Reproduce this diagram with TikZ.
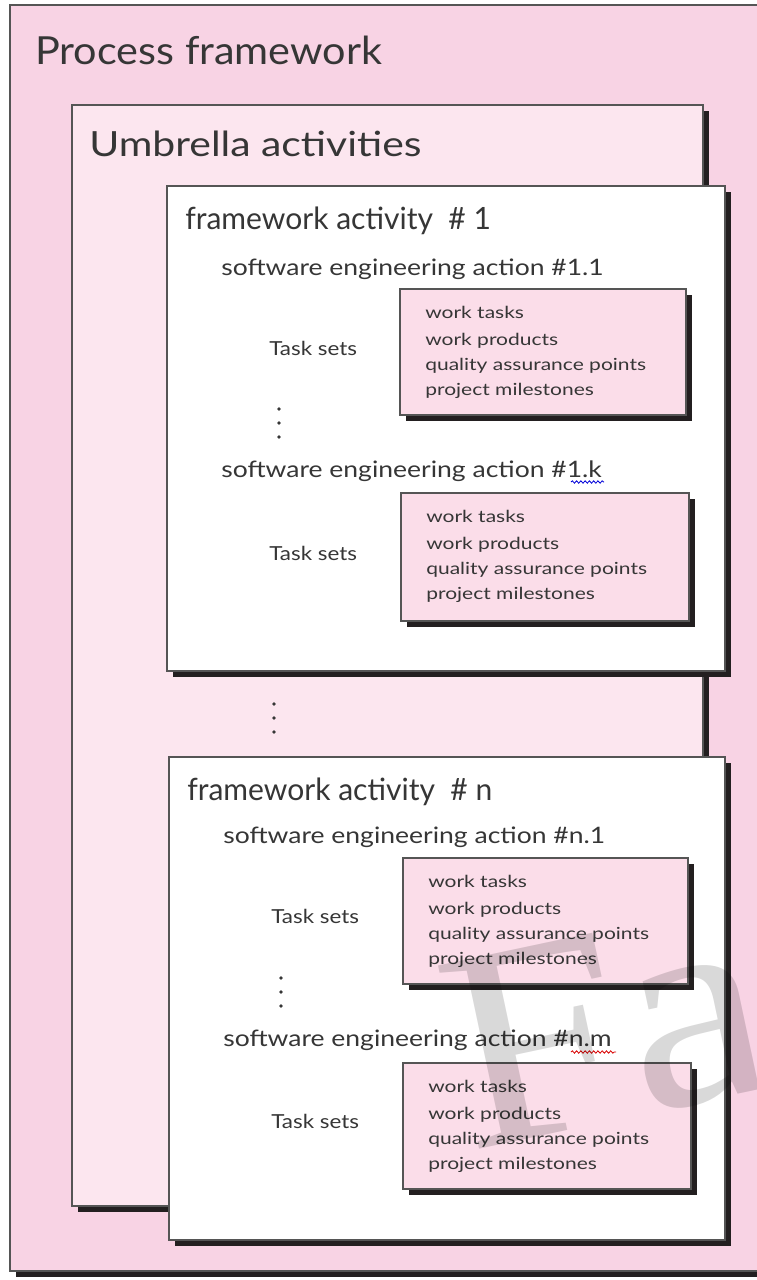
\documentclass[tikz,border=0pt]{standalone}
\usepackage{fontspec}
\setmainfont{Lato}
\newfontfamily\wmfont{Liberation Serif}
\usetikzlibrary{fit,shadows,decorations.pathmorphing}

\definecolor{outerpink}{HTML}{F8D3E4}
\definecolor{umbpink}{HTML}{FCE6EF}
\definecolor{taskpink}{HTML}{FBDDE9}
\definecolor{shade}{HTML}{231F20}
\definecolor{ink}{HTML}{363636}
\definecolor{edge}{HTML}{555555}

% font size with horizontal widening
\newcommand\wideface[2]{\fontsize{#1}{#1}\selectfont\addfontfeatures{FakeStretch=#2}}

\tikzset{
  panel/.style={draw=edge, line width=0.8pt, inner sep=0pt,
    drop shadow={shadow xshift=4.5pt, shadow yshift=-4.5pt, fill=shade, opacity=1}},
  outerbox/.style={panel, fill=outerpink},
  umbbox/.style={panel, fill=umbpink},
  actbox/.style={panel, fill=white},
  taskbox/.style={panel, fill=taskpink},
  lbl/.style={anchor=base west, inner sep=0pt, text=ink},
  huge lbl/.style={lbl, font=\wideface{29}{1.07}},
  big lbl/.style={lbl, font=\wideface{26}{1.18}},
  mid lbl/.style={lbl, font=\wideface{23}{0.98}},
  act lbl/.style={lbl, font=\wideface{17}{1.17}},
  set lbl/.style={lbl, font=\wideface{14.5}{1.16}},
  item lbl/.style={lbl, font=\wideface{12.5}{1.26}},
  vdot/.style={fill=ink, circle, inner sep=0pt, minimum size=2.8pt},
  squiggle/.style={line width=0.6pt, decorate,
    decoration={snake, amplitude=0.9pt, segment length=3.2pt}},
}

\begin{document}
\begin{tikzpicture}[x=0.75pt, y=-0.75pt]
\useasboundingbox (0,0) rectangle (756,1280);
\fill[white] (0,0) rectangle (756,1280);

% nested panels
\node[outerbox, fit={(10,5) (800,1271)}] (outer) {};
\node[umbbox, fit={(72,105) (703,1206)}] (umbrella) {};
\node[actbox, fit={(167,186) (725,671)}] (act1) {};
\node[actbox, fit={(169,757) (725,1240)}] (actn) {};

% task-set boxes
\node[taskbox, fit={(400,289) (686,415)}] (t1) {};
\node[taskbox, fit={(401,493) (689,621)}] (t2) {};
\node[taskbox, fit={(403,858) (688,984)}] (t3) {};
\node[taskbox, fit={(403,1063) (691,1189)}] (t4) {};

% panel titles
\node[huge lbl] (ttl) at (35,65) {Process framework};
\node[big lbl] (umbttl) at (89,157) {Umbrella activities};
\node[mid lbl] (act1ttl) at (185,229) {framework activity\hspace{0.5em}\# 1};
\node[mid lbl] (actnttl) at (187,800) {framework activity\hspace{0.5em}\# n};

% engineering actions
\node[act lbl] (a11) at (221,275) {software engineering action \#1.1};
\node[act lbl] (a1k) at (221,477) {software engineering action \#1.k};
\node[act lbl] (an1) at (223,843) {software engineering action \#n.1};
\node[act lbl] (anm) at (223,1046) {software engineering action \#n.m};

% task set captions
\node[set lbl] (s1) at (269,355) {Task sets};
\node[set lbl] (s2) at (269,560) {Task sets};
\node[set lbl] (s3) at (271,923) {Task sets};
\node[set lbl] (s4) at (271,1128) {Task sets};

% task set contents
\foreach \b/\x/\y in {t1/425/289, t2/426/493, t3/428/858, t4/428/1063}{
  \node[item lbl] (\b-a) at (\x,\y+29) {work tasks};
  \node[item lbl] (\b-b) at (\x,\y+56) {work products};
  \node[item lbl] (\b-c) at (\x,\y+81) {quality assurance points};
  \node[item lbl] (\b-d) at (\x,\y+106) {project milestones};
}

% vertical ellipses
\foreach \n/\x/\y in {p/279/409, q/274/704, r/281/978}{
  \node[vdot] (\n1) at (\x,\y) {};
  \node[vdot] (\n2) at (\x,\y+14) {};
  \node[vdot] (\n3) at (\x,\y+28) {};
}

% spell-check underlines
\draw[squiggle, blue!85!black] (571,482) -- (604,482);
\draw[squiggle, red!85!black] (571,1052) -- (616,1052);

% watermark
\begin{scope}
\clip (0,0) rectangle (756,1280);
\node[anchor=base west, inner sep=0pt, rotate=12, text=black, text opacity=0.15,
      font=\wmfont\wideface{215}{1.12}] (wm) at (468,1152) {Fa};
\end{scope}
\end{tikzpicture}
\end{document}
